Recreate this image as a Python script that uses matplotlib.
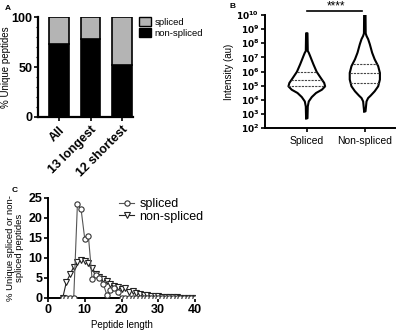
import numpy as np
import matplotlib
matplotlib.use("Agg")
import matplotlib.pyplot as plt
from matplotlib.patches import Patch

plt.rcParams['font.family'] = ['Liberation Sans', 'DejaVu Sans']

# ---------------- Panel A data ----------------
groups = ["All", "13 longest", "12 shortest"]
nonspliced_pct = [73, 78, 52]
spliced_pct = [27, 22, 48]

# ---------------- Panel B data (violin outlines, log10 intensity vs half-width) ----------------
violin_labels = ["Spliced", "Non-spliced"]
spl_levels = [2.69, 3.52, 3.88, 4.19, 4.48, 4.71, 4.95, 5.19, 5.55, 5.98, 6.5, 6.86, 7.1, 7.33, 7.45, 8.71]
spl_hw = [0.012, 0.017, 0.034, 0.086, 0.16, 0.26, 0.316, 0.30, 0.24, 0.17, 0.115, 0.08, 0.057, 0.034, 0.017, 0.012]
spl_quart = [4.95, 5.38, 5.95]
non_levels = [3.18, 3.88, 4.12, 4.29, 4.6, 4.95, 5.43, 5.9, 6.38, 6.86, 7.33, 7.93, 8.29, 8.52, 8.7, 10.0]
non_hw = [0.012, 0.029, 0.057, 0.10, 0.17, 0.23, 0.26, 0.26, 0.23, 0.17, 0.126, 0.086, 0.057, 0.029, 0.015, 0.012]
non_quart = [5.22, 5.9, 6.55]
yticks_B = list(range(2, 11))

# ---------------- Panel C data ----------------
lengths = list(range(4, 41))
spliced_len = [0, 0, 0, 0, 23.4, 22.2, 14.8, 15.4, 4.7, 5.8, 5.0, 3.6, 0.8, 2.0, 2.4, 1.5,
               0, 0, 0, 0, 0, 0, 0, 0, 0, 0, 0, 0, 0, 0, 0, 0, 0, 0, 0, 0, 0]
nonspliced_len = [0, 4.0, 5.9, 7.8, 9.1, 9.6, 9.3, 8.8, 7.4, 6.1, 5.3, 4.8, 4.2, 3.5, 3.0, 2.8,
                  2.2, 2.5, 1.5, 1.8, 1.2, 1.0, 0.8, 0.7, 0.6, 0.5, 0.4, 0.3, 0.3, 0.2, 0.2,
                  0.2, 0.1, 0.1, 0.1, 0.1, 0.1]

W, H = 400, 330
fig = plt.figure(figsize=(4, 3.3), dpi=100)

def ax_px(l, r, t, b):
    return fig.add_axes([l / W, 1 - b / H, (r - l) / W, (b - t) / H])

# ================= Panel A =================
axA = ax_px(38, 133, 17, 117)
x = np.arange(len(groups))
axA.bar(x, nonspliced_pct, width=0.63, color='black', edgecolor='black', linewidth=1.2, zorder=2)
axA.bar(x, spliced_pct, bottom=nonspliced_pct, width=0.63, color='#b4b4b4', edgecolor='black', linewidth=1.2, zorder=2)
axA.set_xlim(-0.67, 2.35)
axA.set_ylim(0, 100)
axA.set_yticks([0, 50, 100])
axA.set_yticks(np.arange(0, 101, 10), minor=True)
axA.set_xticks(x)
axA.set_xticklabels(groups, rotation=45, ha='right', rotation_mode='anchor', fontsize=9, fontweight='bold')
for lab in axA.get_yticklabels():
    lab.set_fontweight('bold')
axA.tick_params(axis='y', labelsize=9, width=1.2, length=3, pad=1)
axA.tick_params(axis='y', which='minor', width=0.8, length=1.5)
axA.tick_params(axis='x', width=1.2, length=3, pad=2)
for s in ['top', 'right']:
    axA.spines[s].set_visible(False)
for s in ['left', 'bottom']:
    axA.spines[s].set_linewidth(1.6)
axA.set_ylabel("% Unique peptides", fontsize=7)
axA.yaxis.set_label_coords(-0.285, 0.5)
fig.legend(handles=[Patch(facecolor='#b4b4b4', edgecolor='black', label='spliced'),
                    Patch(facecolor='black', edgecolor='black', label='non-spliced')],
           loc='upper left', bbox_to_anchor=(135 / W, 1 - 13 / H), frameon=False,
           fontsize=6.8, handlelength=1.3, handleheight=1.1, handletextpad=0.4,
           labelspacing=0.15, borderaxespad=0)
fig.text(5 / W, 1 - 8 / H, "A", fontsize=6, fontweight='bold', va='center')

# ================= Panel B =================
axB = ax_px(265, 395, 15, 128)
for i, (lv, hw, q) in enumerate([(spl_levels, spl_hw, spl_quart), (non_levels, non_hw, non_quart)]):
    lv = np.array(lv); hw = np.array(hw)
    yy = 10 ** lv
    axB.fill_betweenx(yy, i - hw, i + hw, color='white', zorder=2)
    xs = np.concatenate([i - hw, (i + hw)[::-1], [i - hw[0]]])
    ys = np.concatenate([yy, yy[::-1], [yy[0]]])
    axB.plot(xs, ys, color='black', lw=1.5, zorder=3)
    for qv in q:
        w = np.interp(qv, lv, hw)
        axB.plot([i - w, i + w], [10 ** qv, 10 ** qv], color='#444444', lw=0.8, ls=(0, (2, 1)), zorder=3)
axB.set_yscale('log')
axB.set_ylim(1e2, 1e10)
axB.set_xlim(-0.72, 1.52)
axB.set_yticks([10.0 ** k for k in yticks_B])
axB.set_yticklabels([r'$\mathbf{10^{%d}}$' % k for k in yticks_B], fontsize=6.5)
axB.yaxis.set_minor_locator(matplotlib.ticker.NullLocator())
axB.set_xticks([0, 1])
axB.set_xticklabels(violin_labels, fontsize=7.5)
axB.tick_params(axis='y', width=1.2, length=3, pad=1)
axB.tick_params(axis='x', width=1.2, length=3, pad=3)
for s in ['top', 'right']:
    axB.spines[s].set_visible(False)
for s in ['left', 'bottom']:
    axB.spines[s].set_linewidth(1.4)
axB.set_ylabel("Intensity (au)", fontsize=7, labelpad=2)
axB.plot([0, 0.95], [10 ** 10.3, 10 ** 10.3], color='black', lw=1.2, clip_on=False)
axB.text(0.5, 10 ** 10.6, "****", ha='center', va='center', fontsize=8.5, clip_on=False)
fig.text(229 / W, 1 - 7 / H, "B", fontsize=6, fontweight='bold', va='center')

# ================= Panel C =================
axC = ax_px(48, 195, 198, 298)
axC.plot(lengths, nonspliced_len, color='#222222', lw=0.8, marker='v', ms=3.8,
         mfc='white', mec='#222222', mew=0.8, label='non-spliced', zorder=3)
axC.plot(lengths, spliced_len, color='#555555', lw=0.8, marker='o', ms=3.8,
         mfc='white', mec='#333333', mew=0.8, label='spliced', zorder=4)
axC.set_xlim(0, 40)
axC.set_ylim(0, 25)
axC.set_xticks([0, 10, 20, 30, 40])
axC.set_yticks([0, 5, 10, 15, 20, 25])
for lab in axC.get_xticklabels() + axC.get_yticklabels():
    lab.set_fontweight('bold')
axC.tick_params(axis='both', labelsize=9, width=1.2, length=3, pad=1)
for s in ['top', 'right']:
    axC.spines[s].set_visible(False)
for s in ['left', 'bottom']:
    axC.spines[s].set_linewidth(1.4)
axC.set_xlabel("Peptide length", fontsize=7)
axC.xaxis.set_label_coords(0.5, -0.22)
axC.set_ylabel("% Unique spliced or non-\nspliced peptides", fontsize=6.8, linespacing=1.0)
axC.yaxis.set_label_coords(-0.16, 0.5)
h, l = axC.get_legend_handles_labels()
axC.legend(h[::-1], l[::-1], loc='upper left', bbox_to_anchor=(0.45, 1.05), frameon=False,
           fontsize=9, handlelength=1.2, handletextpad=0.4, labelspacing=0.05, borderaxespad=0)
fig.text(12 / W, 1 - 190 / H, "C", fontsize=6, fontweight='bold', va='center')

fig.savefig("out.png", dpi=100)
